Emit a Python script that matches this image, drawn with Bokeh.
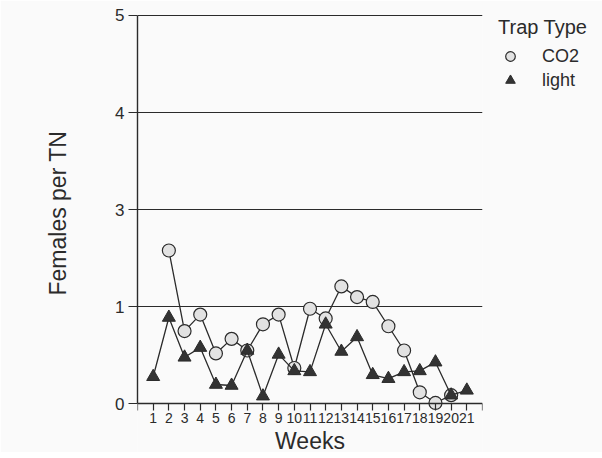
from bokeh.plotting import figure
from bokeh.models import Range1d, FixedTicker, Legend, LegendItem, Title
from bokeh.embed import file_html
from bokeh.resources import INLINE

# y values are in axis-position units; the axis labels positions 0..4 as 0,1,3,4,5
y_tick_pos = [0, 1, 2, 3, 4]
y_tick_labels = ["0", "1", "3", "4", "5"]
x_tick_pos = list(range(0, 23))
x_tick_labels = [""] + [str(i) for i in range(1, 22)] + [""]

weeks_co2 = list(range(2, 21))
co2 = [1.58, 0.75, 0.92, 0.52, 0.67, 0.55, 0.82, 0.92, 0.37, 0.98,
       0.88, 1.21, 1.10, 1.05, 0.80, 0.55, 0.12, 0.01, 0.09]
weeks_light = list(range(1, 22))
light = [0.28, 0.89, 0.48, 0.58, 0.20, 0.19, 0.55, 0.08, 0.51, 0.34, 0.33,
         0.82, 0.54, 0.69, 0.30, 0.26, 0.33, 0.34, 0.43, 0.09, 0.14]

BG = "#fafafa"
INK = "#2b2b2b"
FONT = "Liberation Sans"

p = figure(frame_width=345, frame_height=439,
           x_range=Range1d(0, 22), y_range=Range1d(-0.5, 4.02),
           output_backend="svg", toolbar_location=None,
           min_border_left=137, min_border_top=13, min_border_right=100,
           min_border_bottom=0,
           background_fill_color=BG, border_fill_color=BG,
           outline_line_color=None)

p.xgrid.visible = False
p.ygrid.ticker = FixedTicker(ticks=[1, 2, 3, 4])
p.ygrid.grid_line_color = INK
p.ygrid.grid_line_width = 1.2

xa = p.xaxis[0]
xa.fixed_location = 0
xa.bounds = (0, 22)
xa.ticker = FixedTicker(ticks=x_tick_pos)
xa.major_label_overrides = {i: l for i, l in zip(x_tick_pos, x_tick_labels)}
xa.minor_tick_line_color = None
xa.major_tick_in = 0
xa.major_tick_out = 7
xa.axis_line_color = INK
xa.axis_line_width = 1.4
xa.major_tick_line_color = INK
xa.major_tick_line_width = 1.2
xa.major_label_text_font = FONT
xa.major_label_text_font_size = "14px"
xa.major_label_text_color = INK
xa.major_label_standoff = 2
xa.axis_label = "Weeks"
xa.axis_label_text_font = FONT
xa.axis_label_text_font_style = "normal"
xa.axis_label_text_font_size = "23px"
xa.axis_label_text_color = INK
xa.axis_label_standoff = 2

ya = p.yaxis[0]
ya.bounds = (0, 4)
ya.ticker = FixedTicker(ticks=y_tick_pos)
ya.major_label_overrides = {i: l for i, l in zip(y_tick_pos, y_tick_labels)}
ya.minor_tick_line_color = None
ya.major_tick_in = 0
ya.major_tick_out = 9
ya.axis_line_color = INK
ya.axis_line_width = 1.4
ya.major_tick_line_color = INK
ya.major_tick_line_width = 1.2
ya.major_label_text_font = FONT
ya.major_label_text_font_size = "17px"
ya.major_label_text_color = INK
ya.major_label_standoff = 4

ytitle = Title(text="Females per TN", align="left", offset=157,
               vertical_align="top",
               text_font=FONT, text_font_size="23px", text_color=INK,
               text_font_style="normal", standoff=80)
p.add_layout(ytitle, "left")

p.line(weeks_co2, co2, line_color=INK, line_width=1.3)
r_co2 = p.scatter(weeks_co2, co2, marker="circle", size=13,
                  fill_color="#e2e2e2", line_color=INK, line_width=1.2)
p.line(weeks_light, light, line_color=INK, line_width=1.3)
r_light = p.scatter(weeks_light, light, marker="triangle", size=13,
                    fill_color="#333333", line_color=INK, line_width=1)

legend = Legend(items=[LegendItem(label="CO2", renderers=[r_co2]),
                       LegendItem(label="light", renderers=[r_light])],
                location=(16, 360), title="Trap Type",
                title_text_font=FONT, title_text_font_size="20px",
                title_text_font_style="normal", title_text_color=INK,
                title_standoff=5,
                label_text_font=FONT, label_text_font_size="18px",
                label_text_color=INK, label_standoff=20,
                glyph_width=24, glyph_height=24, label_height=24,
                spacing=0, padding=0, margin=0,
                border_line_color=None, background_fill_color=BG,
                background_fill_alpha=0)
p.add_layout(legend, "right")

open("out.html", "w").write(file_html(p, INLINE))
